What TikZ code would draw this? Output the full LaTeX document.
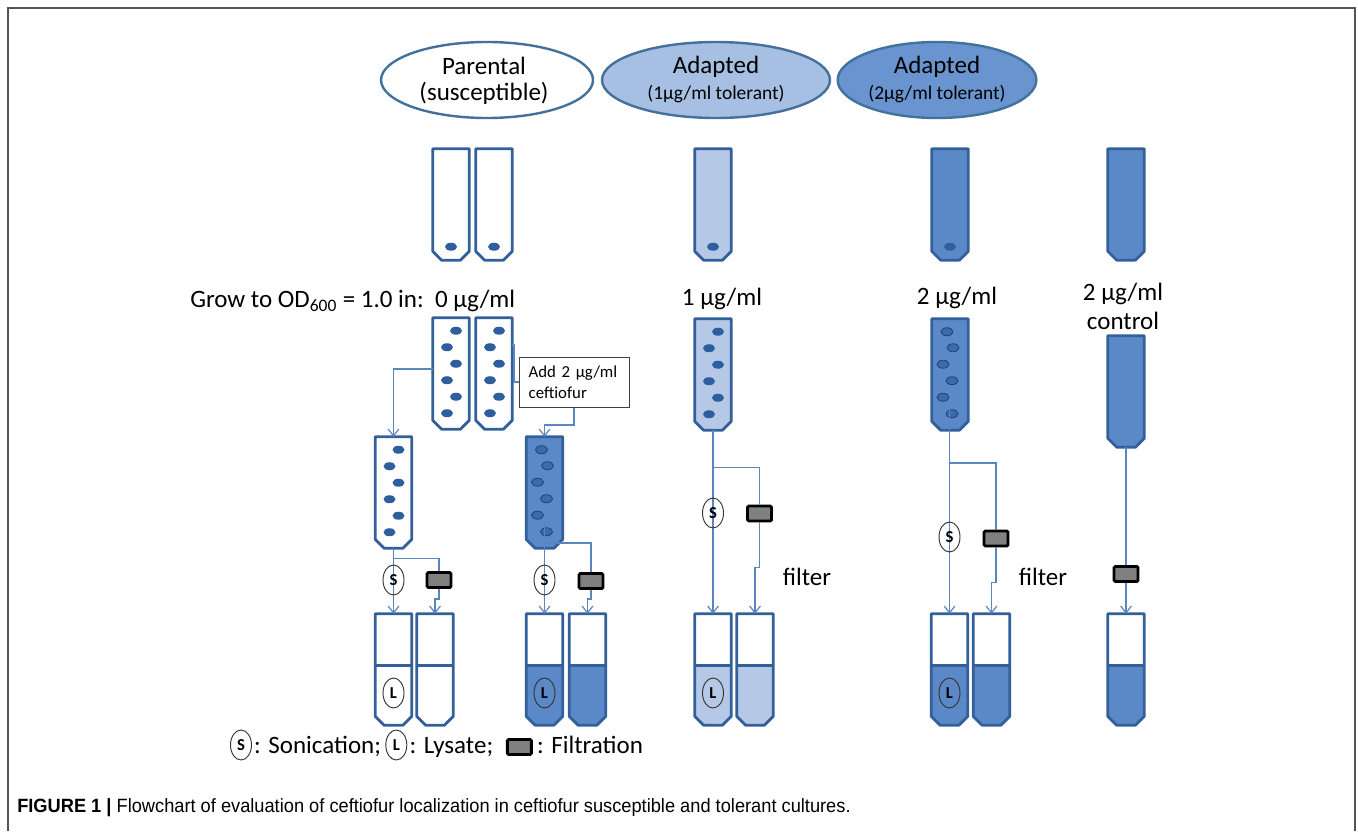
\documentclass[tikz,border=0pt]{standalone}
\usepackage{fontspec}
\setmainfont{Carlito}
\newfontfamily\capfont[FakeStretch=0.95]{Liberation Sans}
\usetikzlibrary{arrows.meta,shapes.geometric,calc}
\definecolor{tubec}{HTML}{33609A}
\definecolor{lightf}{HTML}{B5C8E6}
\definecolor{medf}{HTML}{5B89C8}
\definecolor{ellc}{HTML}{41719C}
\definecolor{ellone}{HTML}{A6BFE2}
\definecolor{elltwo}{HTML}{6A94CF}
\definecolor{dotc}{HTML}{2F5E9E}
\definecolor{connc}{HTML}{5B86BD}
\definecolor{framec}{HTML}{555555}
\tikzset{
  tubenode/.style={inner sep=0pt, minimum width=27pt, minimum height=83.25pt},
  tubeline/.style={draw=tubec, line width=2.1pt, line join=round},
  dotst/.style={fill=dotc},
  dotring/.style={fill=dotc!70!medf, draw=dotc!70!black, line width=0.6pt},
  conn/.style={draw=connc, line width=0.9pt},
  arr/.style={-{Straight Barb[length=5pt,width=8pt]}},
  big/.style={font=\fontsize{18.75}{22}\selectfont, inner sep=0pt},
  sub/.style={font=\fontsize{14.6}{17}\selectfont, inner sep=0pt},
  culture/.style={ellipse, draw=ellc, line width=1.8pt, minimum height=57pt, inner sep=0pt},
  sonic/.style={ellipse, draw=black!80, line width=0.7pt, minimum width=15.75pt, minimum height=22.5pt, inner sep=0pt, font=\fontsize{12.5}{12.5}\selectfont\bfseries},
  filterbox/.style={draw=black, line width=2.2pt, fill=gray, rounded corners=1pt, minimum width=18pt, minimum height=11.25pt, inner sep=0pt},
  addbox/.style={draw=black!75, fill=white, line width=0.75pt, minimum width=82.5pt, minimum height=37.5pt, text width=68pt, inner xsep=7pt, align=left, font=\fontsize{12.6}{15.75}\selectfont},
}
\newcommand{\tubeat}[4]{%
  \node[tubenode] (#1) at (#2,{#3+55.5}) {};
  \draw[tubeline,fill=#4] (#1.north west) -- ($(#1.south west)+(0,-9)$) -- ($(#1.south west)+(9,0)$) -- ($(#1.south east)+(-9,0)$) -- ($(#1.south east)+(0,-9)$) -- (#1.north east) -- cycle;
}
\newcommand{\halftube}[4]{%
  \node[tubenode] (#1) at (#2,{#3+55.5}) {};
  \fill[#4] ($(#1.north west)+(0,52)$) -- ($(#1.south west)+(0,-9)$) -- ($(#1.south west)+(9,0)$) -- ($(#1.south east)+(-9,0)$) -- ($(#1.south east)+(0,-9)$) -- ($(#1.north east)+(0,52)$) -- cycle;
  \draw[tubeline] (#1.north west) -- ($(#1.south west)+(0,-9)$) -- ($(#1.south west)+(9,0)$) -- ($(#1.south east)+(-9,0)$) -- ($(#1.south east)+(0,-9)$) -- (#1.north east) -- cycle;
  \draw[tubeline] ($(#1.north west)+(0,52)$) -- ($(#1.north east)+(0,52)$);
}
\newcommand{\sixdots}[2]{%
  \foreach \dx/\dy in {5/13,-4/29.5,5/46,-4/62.5,5/79,-4/95.5}
    \path[#2] ($(#1.north)+(\dx,\dy)$) ellipse (4.5pt and 3pt);
}
\newcommand{\sixdotsb}[2]{%
  \foreach \dx/\dy in {-3/13,3/29,-7/45.5,2/62,-7/78.5,2/95}
    \path[#2] ($(#1.north)+(\dx,\dy)$) ellipse (4.5pt and 3pt);
}
\begin{document}
\begin{tikzpicture}[x=0.75pt,y=-0.75pt]
\useasboundingbox (0,0) rectangle (1358,831);
% frame
\draw[framec, line width=1.5pt] (8,831) -- (8,8) -- (1355,8) -- (1355,831);

% culture ellipses
\node[culture, fill=white, minimum width=159pt] (par) at (487,80) {};
\node[culture, fill=ellone, minimum width=171pt] (ad1) at (716,80) {};
\node[culture, fill=elltwo, minimum width=149pt] (ad2) at (937,80) {};
\node[big] (parA) at (484,66) {Parental};
\node[big] (parB) at (484,93) {(susceptible)};
\node[big] (ad1A) at (716,67) {Adapted};
\node[sub] (ad1B) at (716,94) {(1µg/ml tolerant)};
\node[big] (ad2A) at (937,67) {Adapted};
\node[sub] (ad2B) at (937,94) {(2µg/ml tolerant)};

% row 1 tubes
\tubeat{ta}{451}{149}{white}
\tubeat{tb}{494}{149}{white}
\tubeat{tc}{713}{149}{lightf}
\tubeat{td}{950}{149}{medf}
\tubeat{te}{1126}{149}{medf}
\foreach \t in {ta,tb,tc,td}
  \fill[dotc] ($(\t.north)+(0,98)$) ellipse (4.5pt and 3pt);

% row 2 labels
\node[big, anchor=west] (grow) at (190,301) {Grow to OD\textsubscript{600} = 1.0 in:\ \ 0 µg/ml};
\node[big] (c1) at (722,299) {1 µg/ml};
\node[big] (c2) at (957,298) {2 µg/ml};
\node[big, align=center, font=\fontsize{18.75}{21.75}\selectfont] (c3) at (1123,306) {2 µg/ml\\control};

% row 2 tubes
\tubeat{ra}{451}{318}{white}
\tubeat{rb}{494}{318}{white}
\tubeat{rc}{713}{319}{lightf}
\tubeat{rd}{950}{319}{medf}
\tubeat{re}{1126}{336}{medf}
\sixdots{ra}{dotst}
\sixdots{rb}{dotst}
\sixdots{rc}{dotst}
\sixdotsb{rd}{dotring}

% row 3 tubes
\tubeat{qa}{393.5}{437}{white}
\tubeat{qb}{544.5}{437}{medf}
\sixdots{qa}{dotst}
\sixdotsb{qb}{dotring}

% row 4 tubes
\halftube{pa}{393.5}{614}{white}
\halftube{pb}{435}{614}{white}
\halftube{pc}{544.5}{614}{medf}
\halftube{pd}{587.5}{614}{medf}
\halftube{pe}{713}{614}{lightf}
\halftube{pf}{755}{614}{lightf}
\halftube{pg}{949.5}{614}{medf}
\halftube{ph}{991.5}{614}{medf}
\halftube{pi}{1126}{614}{medf}

% filter boxes
\node[filterbox] (f1) at (439,580) {};
\node[filterbox] (f2) at (591,581) {};
\node[filterbox] (f3) at (759.5,513.5) {};
\node[filterbox] (f4) at (996,538.5) {};
\node[filterbox] (f5) at (1126,574) {};

% connectors
\coordinate (b3) at (544.5,520);
\coordinate (b4) at (949.5,403);
\coordinate (addin) at (540,382);
\coordinate (addout) at (574,407);
\draw[conn,arr] ($(ra.west)+(0,-4.5)$) -| (qa.north);
\draw[conn] ($(rb.east)+(0,-28.5)$) -| (514,382) -- (addin);
\draw[conn,arr] (addout) -- (574,425) -| (qb.north);
\draw[conn,arr] (qa.south) -- (pa.north);
\draw[conn] ($(qa.south)+(0,10)$) -| (f1.north);
\draw[conn,arr] (f1.south) -- ++(0,10) -| (pb.north);
\draw[conn,arr] (b3) -- (pc.north);
\draw[conn] ($(b3)+(0,23)$) -| (f2.north);
\draw[conn,arr] (f2.south) -- ++(0,9) -| (pd.north);
\draw[conn,arr] (rc.south) -- (pe.north);
\draw[conn] ($(rc.south)+(0,37)$) -| (f3.north);
\draw[conn,arr] (f3.south) -- ++(0,45) -| (pf.north);
\draw[conn,arr] (b4) -- (pg.north);
\draw[conn] ($(b4)+(0,60)$) -| (f4.north);
\draw[conn,arr] (f4.south) -- ++(0,35) -| (ph.north);
\draw[conn] (re.south) -- (f5.north);
\draw[conn,arr] (f5.south) -- (pi.north);

% add box
\node[addbox] (add) at (574,382) {Add 2 µg/ml\\ceftiofur};

% sonication and lysate marks
\node[sonic] (s1) at (393.5,580) {S};
\node[sonic] (s2) at (544.5,580) {S};
\node[sonic] (s3) at (713,513) {S};
\node[sonic] (s4) at (949.5,537) {S};
\node[sonic] (l1) at (393.5,693) {L};
\node[sonic] (l2) at (544.5,693) {L};
\node[sonic] (l3) at (713,693) {L};
\node[sonic] (l4) at (949.5,693) {L};

% filter labels
\node[big] (fl1) at (807,577) {filter};
\node[big] (fl2) at (1043,577) {filter};

% legend
\node[sonic] (ls) at (241,745) {S};
\node[big, anchor=base west] (lt1) at ($(ls.east |- 0,753)+(2,0)$) {: Sonication;};
\node[sonic] (ll) at ($(lt1.east |- 0,745)+(15,0)$) {L};
\node[big, anchor=base west] (lt2) at ($(ll.east |- 0,753)+(2,0)$) {: Lysate;};
\node[filterbox] (lf) at ($(lt2.east |- 0,747)+(26,0)$) {};
\node[big, anchor=base west] (lt3) at ($(lf.east |- 0,753)+(4,0)$) {: Filtration};

% caption
\node[anchor=west, inner sep=0pt, font=\capfont\fontsize{14.4}{16}\selectfont] (cap) at (17,808) {\textbf{FIGURE 1 |} Flowchart of evaluation of ceftiofur localization in ceftiofur susceptible and tolerant cultures.};
\end{tikzpicture}
\end{document}
